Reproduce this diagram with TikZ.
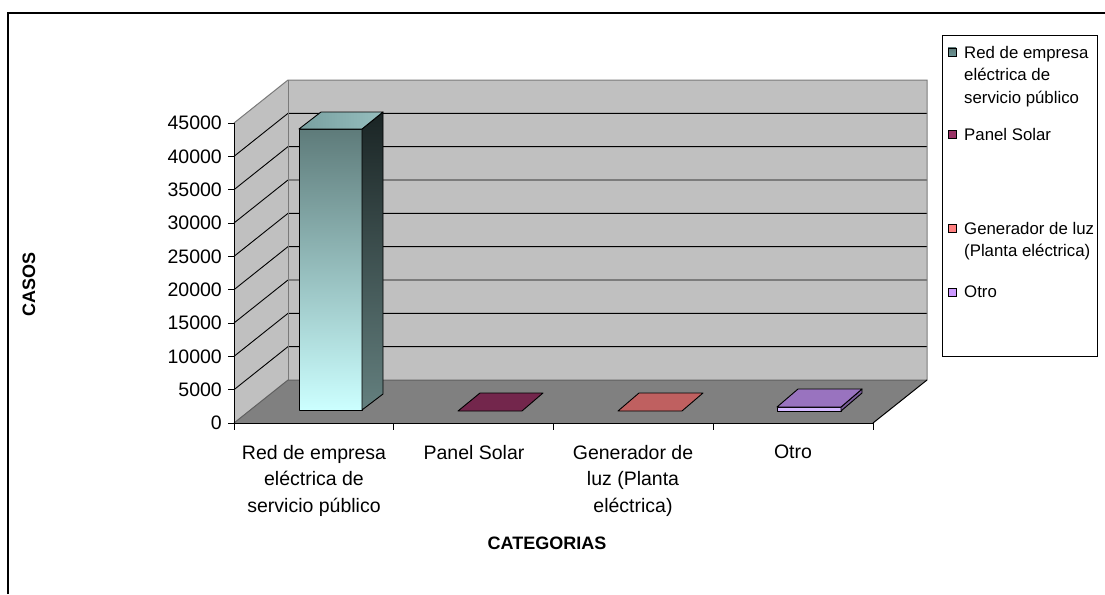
\documentclass[tikz,border=0pt]{standalone}
\usepackage{fontspec}
\setmainfont{Liberation Sans}
\definecolor{wallc}{HTML}{C0C0C0}
\definecolor{floorc}{HTML}{808080}
\definecolor{edgec}{HTML}{7A7A7A}
\definecolor{edgeb}{HTML}{606060}
\definecolor{plum}{HTML}{73264C}
\definecolor{plumL}{HTML}{993366}
\definecolor{salm}{HTML}{BF6060}
\definecolor{salmL}{HTML}{FF8080}
\definecolor{lavT}{HTML}{9973BF}
\definecolor{lavF}{HTML}{D4B8FF}
\definecolor{lavS}{HTML}{7A5C99}
\definecolor{lavL}{HTML}{CC99FF}
\definecolor{tealL}{HTML}{6B9595}
\definecolor{tealD}{HTML}{5E7B7A}
\definecolor{cyanL}{HTML}{CCFFFF}
\definecolor{sideD}{HTML}{1A2424}
\definecolor{sideL}{HTML}{64807F}
\definecolor{topA}{HTML}{78A0A0}
\definecolor{topB}{HTML}{96BEBE}
\tikzset{
  axlab/.style={font=\fontsize{19.5}{26.5}\selectfont, align=center, inner sep=0pt},
  ticklab/.style={font=\fontsize{19.5}{22}\selectfont, anchor=east, inner sep=0pt},
  legtext/.style={font=\fontsize{16.8}{22.5}\selectfont, align=left, anchor=west, inner sep=0pt},
  axtitle/.style={font=\fontsize{18}{20}\selectfont\bfseries, inner sep=0pt},
  swatch/.style={draw=black, line width=0.9pt},
  grid/.style={black, line width=0.9pt},
  faceedge/.style={draw=black, line width=0.9pt, line join=round}
}
\begin{document}
\begin{tikzpicture}[x=1pt,y=-1pt]
\useasboundingbox (0,0) rectangle (1105,594);
\fill[white] (0,0) rectangle (1105,594);
% outer frame
\draw[black, line width=2.2pt] (8,594) -- (8,13) -- (1105,13);
% walls
\fill[wallc] (234,423) -- (234,123) -- (288,80) -- (288,380) -- cycle;
\fill[wallc] (288,80) rectangle (927,380);
\fill[floorc] (234,423) -- (288,380) -- (927,380) -- (873,423) -- cycle;
% gridlines
\foreach \k in {1,...,8}{
  \draw[grid] (234,{423-\k*33.333}) -- (288,{380-\k*33.333}) -- (927,{380-\k*33.333});
}
% wall edges
\draw[edgec, line width=1pt] (234,123) -- (288,80) -- (927,80) -- (927,380);
\draw[edgec, line width=1pt] (288,80) -- (288,380);
\draw[edgeb, line width=1pt] (234,423) -- (288,380) -- (927,380);
\draw[black, line width=1pt] (927,380) -- (873,423);
% axes
\draw[black, line width=1pt] (234,123) -- (234,423) -- (873,423);
\foreach \k/\lab in {0/0,1/5000,2/10000,3/15000,4/20000,5/25000,6/30000,7/35000,8/40000,9/45000}{
  \draw[black, line width=1pt] (228,{423-\k*33.333}) -- (234,{423-\k*33.333});
  \node[ticklab] (yl\k) at (222,{423-\k*33.333}) {\lab};
}
\foreach \k in {0,...,4}{
  \draw[black, line width=1pt] ({234+\k*159.75},423) -- ({234+\k*159.75},430);
}
% bar 1
\path[faceedge, top color=tealD, bottom color=cyanL] (299,129) rectangle (362,410);
\path[faceedge, top color=sideD, bottom color=sideL] (362,129) -- (383,112) -- (383,394) -- (362,410) -- cycle;
\path[faceedge, left color=topA, right color=topB] (299,129) -- (321,112) -- (383,112) -- (362,129) -- cycle;
% bar 2 (flat)
\path[faceedge, fill=plum] (458,411) -- (522,411) -- (543,393) -- (480,393) -- cycle;
% bar 3 (flat)
\path[faceedge, fill=salm] (618,411) -- (682,411) -- (703,393) -- (639,393) -- cycle;
% bar 4 (thin slab)
\path[faceedge, fill=lavF] (777,407) rectangle (841,411);
\path[faceedge, fill=lavS] (841,407) -- (862,389) -- (862,393) -- (841,411) -- cycle;
\path[faceedge, fill=lavT] (777,407) -- (798,389) -- (862,389) -- (841,407) -- cycle;
% category labels
\node[axlab, anchor=north] (c1) at (314,445) {Red de empresa\\eléctrica de\\servicio público};
\node[axlab, anchor=north] (c2) at (474,445) {Panel Solar};
\node[axlab, anchor=north] (c3) at (633,445) {Generador de\\luz (Planta\\eléctrica)};
\node[axlab, anchor=north] (c4) at (793,445) {Otro};
% axis titles
\node[axtitle] (xt) at (547,543) {CATEGORIAS};
\node[axtitle, rotate=90] (yt) at (29,284) {CASOS};
% legend
\draw[black, line width=1pt] (942,36) rectangle (1097,356);
\path[swatch, top color=tealD, bottom color=tealL] (948,48) rectangle (956,56);
\node[legtext, anchor=north west] (l1) at (964,46) {Red de empresa\\eléctrica de\\servicio público};
\path[swatch, fill=plumL] (948,130) rectangle (956,138);
\node[legtext] (l2) at (964,134) {Panel Solar};
\path[swatch, fill=salmL] (948,224) rectangle (956,232);
\node[legtext, anchor=north west] (l3) at (964,222) {Generador de luz\\(Planta eléctrica)};
\path[swatch, fill=lavL] (948,288) rectangle (956,296);
\node[legtext] (l4) at (964,292) {Otro};
\end{tikzpicture}
\end{document}
